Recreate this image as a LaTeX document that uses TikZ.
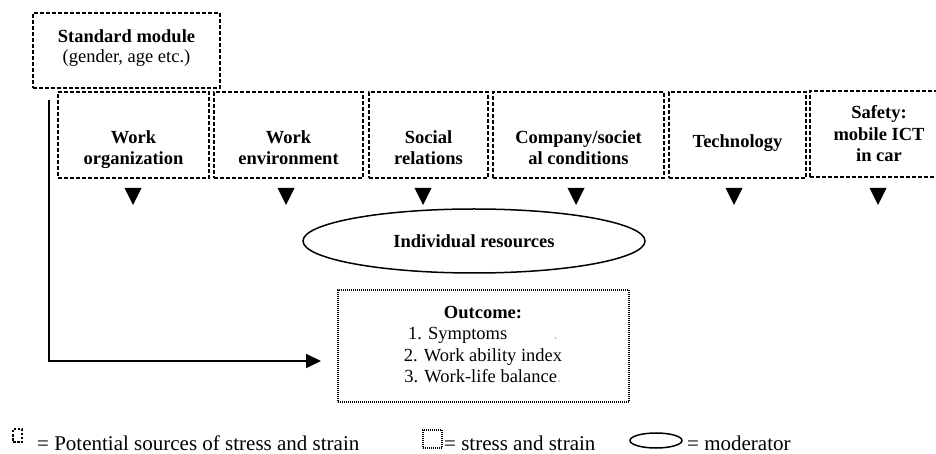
\documentclass[tikz,border=0pt]{standalone}
\usepackage{fontspec}
\setmainfont{Liberation Serif}
\usetikzlibrary{arrows.meta,shapes.geometric}
\begin{document}
\begin{tikzpicture}[x=1bp,y=-1bp,
  dbox/.style={draw, line width=1.5bp, dash pattern=on 4bp off 2bp, inner sep=0pt},
  obox/.style={draw, line width=1.4bp, dash pattern=on 1bp off 1bp, inner sep=0pt},
  lbl/.style={font=\bfseries\fontsize{18.5bp}{21.5bp}\selectfont, align=center, anchor=base, inner sep=0pt},
  txt/.style={font=\fontsize{18.5bp}{21.5bp}\selectfont, align=center, anchor=base, inner sep=0pt},
  leg/.style={font=\fontsize{21bp}{24bp}\selectfont, anchor=base west, inner sep=0pt},
  link/.style={line width=2bp, -{Triangle[length=15bp,width=14bp]}},
  downtri/.pic={\fill (-8.5,0) -- (8.5,0) -- (0,17) -- cycle;}
]
\useasboundingbox (0,0) rectangle (936,454);

% boxes
\node[dbox, minimum width=187bp, minimum height=75bp] (std) at (126.5,50.5) {};
\node[dbox, minimum width=151bp, minimum height=86bp] (wo) at (133.5,135) {};
\node[dbox, minimum width=149bp, minimum height=86bp] (we) at (288.5,135) {};
\node[dbox, minimum width=119bp, minimum height=86bp] (sr) at (428.5,135) {};
\node[dbox, minimum width=171bp, minimum height=86bp] (cc) at (578.5,135) {};
\node[dbox, minimum width=137bp, minimum height=86bp] (te) at (737.5,135) {};
\node[dbox, minimum width=138bp, minimum height=86bp] (sa) at (879,134) {};

% labels (anchor=base is the baseline of the last line)
\node[lbl] (stdt) at (126.5,63) {Standard module\\[-1.5bp]\mdseries (gender, age etc.)};
\node[lbl] (wot) at (133.5,165) {Work\\organization};
\node[lbl] (wet) at (288.5,165) {Work\\environment};
\node[lbl] (srt) at (428.5,165) {Social\\relations};
\node[lbl] (cct) at (578.5,165) {Company/societ\\al conditions};
\node[lbl] (tet) at (737.5,148) {Technology};
\node[lbl] (sat) at (879,162) {Safety:\\mobile ICT\\in car};

% arrowheads
\foreach \x/\n in {133/t1,286/t2,423/t3,576/t4,734/t5,878/t6}
  \pic (\n) at (\x,188) {downtri};

% moderator
\node[draw, ellipse, line width=1.5bp, minimum width=342bp, minimum height=64bp, inner sep=0pt,
      font=\bfseries\fontsize{18.5bp}{21.5bp}\selectfont] (ir) at (474,241) {Individual resources};

% outcome
\node[obox, minimum width=291bp, minimum height=112bp] (out) at (483.5,346) {};
\node[txt] (outt) at (483,383) {\textbf{Outcome:}\\1. Symptoms\hspace{46bp}{\color{gray!40}.}\\2. Work ability index\\3. Work-life balance{\color{gray!40}.}};

% connector from standard module to outcome
\coordinate (ls) at (49,100);
\coordinate (le) at (321,361);
\draw[link] (ls) |- (le);

% legend
\node[draw, line width=1.3bp, dash pattern=on 2.5bp off 1.5bp, minimum width=9bp, minimum height=13bp, inner sep=0pt] (lg1) at (17.5,435.5) {};
\node[leg] (lg1t) at (37,450.5) {= Potential sources of stress and strain};
\node[draw, line width=1.2bp, dash pattern=on 1bp off 1bp, minimum width=19bp, minimum height=18bp, inner sep=0pt] (lg2) at (432.5,439) {};
\node[leg] (lg2t) at (444,450.5) {= stress and strain};
\node[draw, ellipse, line width=1.5bp, minimum width=52bp, minimum height=15bp, inner sep=0pt] (lg3) at (656,440.5) {};
\node[leg] (lg3t) at (687,450.5) {= moderator};
\end{tikzpicture}
\end{document}
